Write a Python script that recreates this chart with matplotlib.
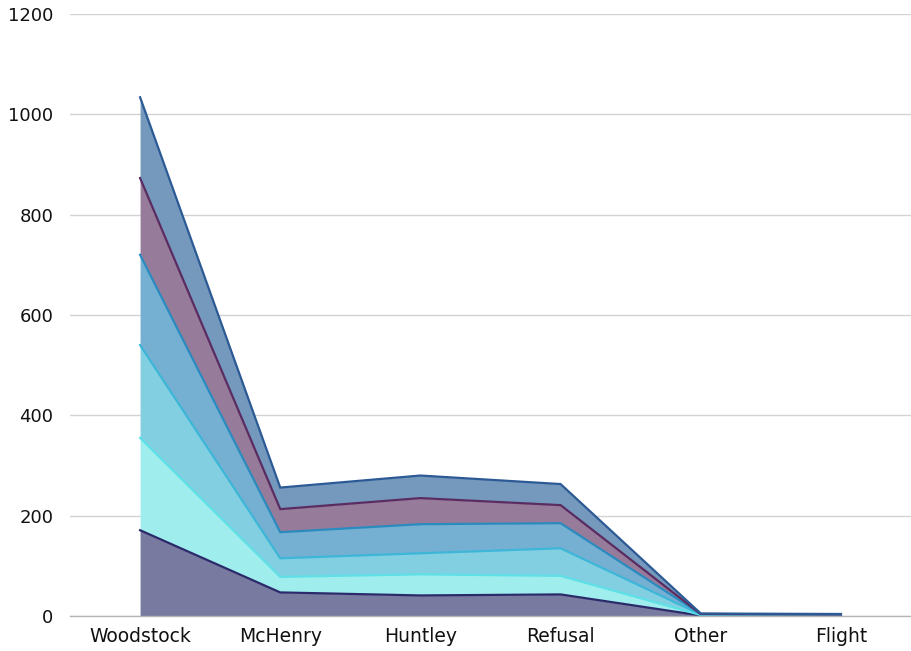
import matplotlib
matplotlib.use("Agg")
import matplotlib.pyplot as plt
import numpy as np

plt.rcParams['font.family'] = ['DejaVu Sans']

categories = ["Woodstock", "McHenry", "Huntley", "Refusal", "Other", "Flight"]

# values per series (stacked bottom to top)
series_1 = [171, 47, 41, 43, 1, 2]
series_2 = [184, 31, 42, 37, 1, 0]
series_3 = [185, 37, 42, 55, 1, 1]
series_4 = [180, 52, 58, 50, 1, 0]
series_5 = [153, 46, 52, 36, 0, 0]
series_6 = [161, 43, 45, 42, 1, 1]

y_ticks = [0, 200, 400, 600, 800, 1000, 1200]

layers = [series_1, series_2, series_3, series_4, series_5, series_6]
fill_colors = ["#787a9f", "#a0eded", "#82cfe2", "#75b0d3", "#977b9a", "#7598bd"]
line_colors = ["#2b2a6a", "#5ee0e6", "#3db6d8", "#2a8bbf", "#5a2c61", "#2c5a95"]

fig = plt.figure(figsize=(9.11, 6.51), dpi=100)
ax = fig.add_axes([70 / 911, 35 / 651, 841 / 911, 602 / 651])

x = np.arange(len(categories))
bottom = np.zeros(len(categories))
for vals, fc in zip(layers, fill_colors):
    top = bottom + np.array(vals, dtype=float)
    ax.fill_between(x, bottom, top, color=fc, linewidth=0, zorder=2)
    bottom = top

# draw the outlines after the fills so they sit on top
bottom = np.zeros(len(categories))
for vals, lc in zip(layers, line_colors):
    top = bottom + np.array(vals, dtype=float)
    ax.plot(x, top, color=lc, linewidth=1.6, zorder=3, solid_joinstyle="miter")
    bottom = top

ax.set_xlim(-0.5, len(categories) - 0.5)
ax.set_ylim(0, 1200)
ax.set_yticks(y_ticks)
ax.set_xticks(x)
ax.set_xticklabels(categories)

ax.grid(axis="y", color="#d3d3d3", linewidth=1, zorder=0)
ax.set_axisbelow(True)
for side in ["top", "right", "left"]:
    ax.spines[side].set_visible(False)
ax.spines["bottom"].set_color("#b5b5b5")
ax.spines["bottom"].set_linewidth(1)
ax.spines["bottom"].set_zorder(4)

ax.tick_params(axis="y", length=0, pad=12, labelsize=13, labelcolor="#111111")
ax.tick_params(axis="x", length=0, pad=8, labelsize=13.5, labelcolor="#111111")

fig.savefig("out.png", dpi=100, facecolor="white")
